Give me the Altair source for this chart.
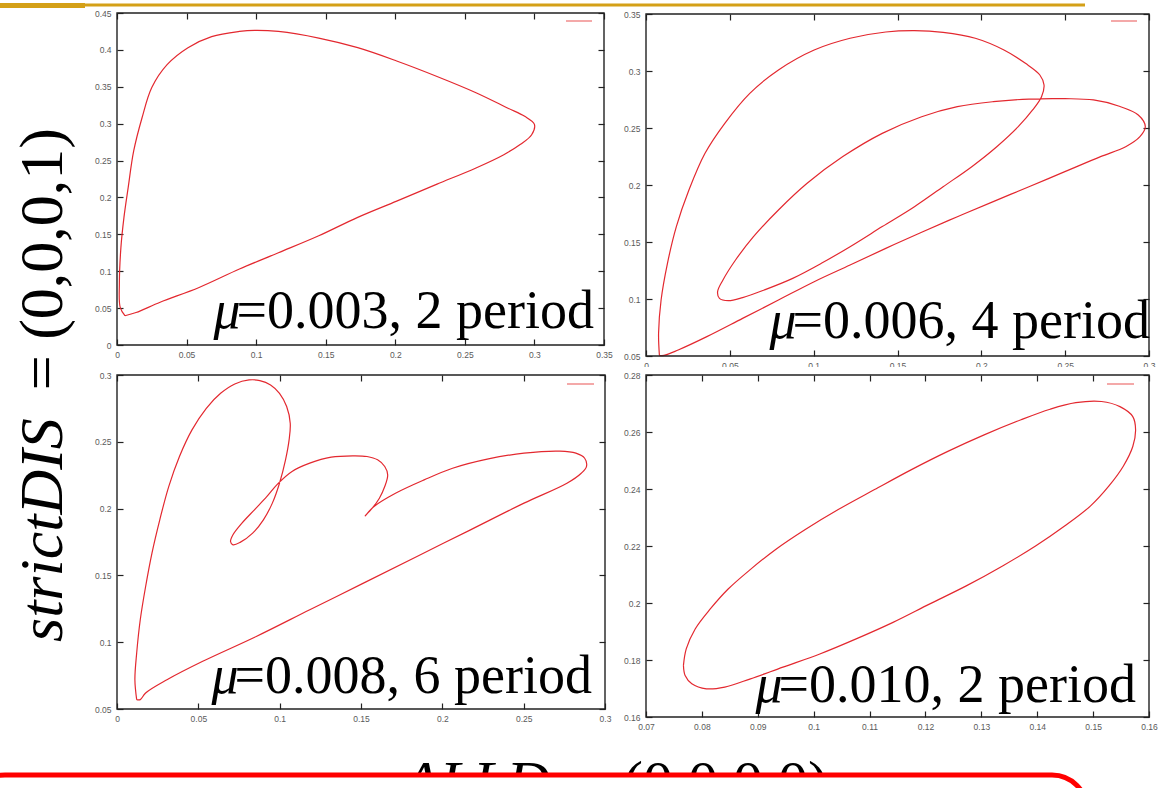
import altair as alt
import pandas as pd

# ---------------- data ----------------
# Panel 1: mu = 0.003, 2 period
p1_x = [0.0057, 0.0023, 0.0017, 0.0028, 0.005, 0.008, 0.012, 0.018, 0.025, 0.036, 0.051, 0.068,
        0.088, 0.099, 0.116, 0.145, 0.173, 0.201, 0.23, 0.258, 0.281, 0.293, 0.300, 0.298, 0.29,
        0.278, 0.258, 0.23, 0.201, 0.173, 0.145, 0.116, 0.088, 0.059, 0.031, 0.0137, 0.0057]
p1_y = [0.0397, 0.051, 0.0825, 0.132, 0.173, 0.213, 0.263, 0.308, 0.349, 0.380, 0.403, 0.418,
        0.425, 0.4265, 0.425, 0.416, 0.403, 0.385, 0.364, 0.342, 0.321, 0.310, 0.299, 0.285, 0.272,
        0.258, 0.240, 0.218, 0.195, 0.173, 0.148, 0.125, 0.103, 0.078, 0.058, 0.044, 0.0397]

# Panel 2: mu = 0.006, 4 period
p2_x = [0.008, 0.0075, 0.009, 0.0128, 0.0181, 0.0256, 0.0352, 0.047, 0.0619, 0.079, 0.1003, 0.1217,
        0.143, 0.1601, 0.1772, 0.1964, 0.2135, 0.2263, 0.2349, 0.2374, 0.2359,
        0.2306, 0.222, 0.2092, 0.1943, 0.1772, 0.1601, 0.1409, 0.1217, 0.1046, 0.0875, 0.0705,
        0.0576, 0.0491, 0.0438, 0.0427,
        0.0459, 0.0534, 0.0641, 0.079, 0.0961, 0.1174, 0.1409, 0.1644, 0.1857, 0.2071, 0.2284,
        0.2498, 0.2669, 0.2818, 0.2936, 0.2978, 0.2946, 0.2861,
        0.2711, 0.2498, 0.2284, 0.2071, 0.1857, 0.1644, 0.143, 0.1217, 0.1003, 0.079, 0.0576,
        0.0363, 0.0192, 0.0107, 0.008]
p2_y = [0.0505, 0.0699, 0.0991, 0.1313, 0.1635, 0.1956, 0.2278, 0.2541, 0.2804, 0.3009, 0.3184, 0.3287,
        0.3342, 0.3354, 0.3339, 0.3287, 0.3184, 0.3067, 0.2965, 0.2877, 0.2775,
        0.2658, 0.2512, 0.2336, 0.2161, 0.1985, 0.1810, 0.1635, 0.1459, 0.1313, 0.1181, 0.1079,
        0.1012, 0.0985, 0.1006, 0.1064,
        0.1167, 0.1342, 0.1547, 0.1781, 0.2015, 0.2249, 0.2453, 0.2599, 0.2687, 0.2731, 0.2754,
        0.2757, 0.2746, 0.2693, 0.2614, 0.2512, 0.2424, 0.2336,
        0.2249, 0.2117, 0.1985, 0.1854, 0.1722, 0.1585, 0.1444, 0.1298, 0.1152, 0.0991, 0.0830,
        0.0670, 0.0553, 0.0505, 0.0505]

# Panel 3: mu = 0.008, 6 period
p3_x = [0.0121, 0.011, 0.0121, 0.0143, 0.0176, 0.0215, 0.0263, 0.0318, 0.0384, 0.0461, 0.0549, 0.0637,
        0.0724, 0.0812, 0.0878, 0.0944, 0.0999, 0.1043, 0.1065, 0.1058, 0.1036, 0.0999, 0.0955,
        0.09, 0.0834, 0.0757, 0.0713, 0.0698, 0.0713, 0.0768, 0.0845, 0.0922, 0.0988, 0.1076,
        0.1185, 0.1317, 0.1449, 0.1537, 0.1602, 0.1646, 0.1664, 0.1646, 0.1613, 0.1569, 0.1526,
        0.158, 0.1712, 0.1888, 0.2063, 0.2283, 0.2502, 0.2722, 0.2821, 0.2875, 0.2886, 0.2854,
        0.2766, 0.2502, 0.2173, 0.1844, 0.1515, 0.1185, 0.0856, 0.0527, 0.0307, 0.0176, 0.0143,
        0.0121]
p3_y = [0.057, 0.0719, 0.0919, 0.1168, 0.1417, 0.1667, 0.1916, 0.2165, 0.2390, 0.2589, 0.2751, 0.2863,
        0.2933, 0.2963, 0.2958, 0.2926, 0.2863, 0.2764, 0.2639, 0.2514, 0.2365, 0.2190, 0.2041,
        0.1916, 0.1816, 0.1747, 0.1729, 0.1754, 0.1804, 0.1891, 0.1991, 0.2091, 0.2185, 0.2278,
        0.2340, 0.2385, 0.2395, 0.2390, 0.2365, 0.2315, 0.2253, 0.2165, 0.2078, 0.2003, 0.1946,
        0.2016, 0.2115, 0.2215, 0.2302, 0.2372, 0.2415, 0.2430, 0.2415, 0.2377, 0.2315, 0.2265,
        0.2190, 0.2041, 0.1841, 0.1642, 0.1442, 0.1243, 0.1043, 0.0857, 0.0719, 0.062, 0.057,
        0.057]

# Panel 4: mu = 0.010, 2 period
p4_x = [0.0767, 0.0772, 0.0788, 0.0815, 0.0847, 0.0887, 0.0932, 0.0985, 0.1044, 0.1109, 0.1175,
        0.124, 0.1305, 0.1371, 0.1423, 0.1469, 0.1515, 0.1548, 0.1571, 0.1576, 0.1571, 0.1554,
        0.1528, 0.1495, 0.1449, 0.1397, 0.1338, 0.1273, 0.1207, 0.1142, 0.1076, 0.1011, 0.0945,
        0.0887, 0.0841, 0.0808, 0.0782, 0.077, 0.0767]
p4_y = [0.1781, 0.1839, 0.1909, 0.1979, 0.2049, 0.2118, 0.2188, 0.2258, 0.2328, 0.2398, 0.2468,
        0.2532, 0.2590, 0.2643, 0.2680, 0.2703, 0.2707, 0.2689, 0.2654, 0.2608, 0.2549, 0.2480,
        0.2410, 0.2340, 0.2270, 0.2200, 0.2130, 0.2060, 0.1996, 0.1932, 0.1874, 0.1821, 0.1775,
        0.1734, 0.1705, 0.1699, 0.1717, 0.1746, 0.1781]

p1_xticks = [0, 0.05, 0.1, 0.15, 0.2, 0.25, 0.3, 0.35]
p1_yticks = [0, 0.05, 0.1, 0.15, 0.2, 0.25, 0.3, 0.35, 0.4, 0.45]
p2_xticks = [0, 0.05, 0.1, 0.15, 0.2, 0.25, 0.3]
p2_yticks = [0.05, 0.1, 0.15, 0.2, 0.25, 0.3, 0.35]
p3_xticks = [0, 0.05, 0.1, 0.15, 0.2, 0.25, 0.3]
p3_yticks = [0.05, 0.1, 0.15, 0.2, 0.25, 0.3]
p4_xticks = [0.07, 0.08, 0.09, 0.1, 0.11, 0.12, 0.13, 0.14, 0.15, 0.16]
p4_yticks = [0.16, 0.18, 0.2, 0.22, 0.24, 0.26, 0.28]

mu_values = ["0.003", "0.006", "0.008", "0.010"]
periods = ["2", "4", "6", "2"]

y_title_italic = "strictDIS"
y_title_rest = "= (0,0,0,1)"
x_title_italic = "ALLD"
x_title_rest = "= (0,0,0,0)"

# ---------------- layout / style ----------------
W, H = 1159, 788
RED = "#e3282f"
SERIF = "Liberation Serif"
SANS = "Liberation Sans"
LAB = dict(labelFont=SANS, labelFontSize=8.5, labelColor="#5a5a5a")
ONE = pd.DataFrame({"k": [0]})


def axis_common(**kw):
    base = dict(grid=False, domain=False, title=None, labelFlush=False, labelOverlap=False,
                labelBound=False, zindex=0)
    base.update(kw)
    return alt.Axis(**base)


def panel(xs, ys, xdom, ydom, xticks, yticks, box, mu, per, label_pos, legend_pos, fs=54):
    left, right, bottom, top = box
    df = pd.DataFrame({"x": xs, "y": ys, "i": list(range(len(xs)))})
    sx = alt.Scale(domain=xdom, range=[left, right], nice=False, zero=False)
    sy = alt.Scale(domain=ydom, range=[bottom, top], nice=False, zero=False)

    x_lab = axis_common(orient="bottom", offset=bottom - H, values=xticks, format="~g",
                        ticks=False, labelPadding=5, **LAB)
    y_lab = axis_common(orient="left", offset=-left, values=yticks, format="~g",
                        ticks=False, labelPadding=6, **LAB)
    x_in_b = axis_common(orient="top", offset=-bottom, values=xticks, labels=False,
                         ticks=True, tickSize=6, tickColor="#222222", tickWidth=1.2)
    y_in_l = axis_common(orient="right", offset=left - W, values=yticks, labels=False,
                         ticks=True, tickSize=6, tickColor="#222222", tickWidth=1.2)
    x_in_t = axis_common(orient="bottom", offset=top - H, values=xticks, labels=False,
                         ticks=True, tickSize=6, tickColor="#222222", tickWidth=1.2)
    y_in_r = axis_common(orient="left", offset=-right, values=yticks, labels=False,
                         ticks=True, tickSize=6, tickColor="#222222", tickWidth=1.2)

    curve = alt.Chart(df).mark_line(color=RED, strokeWidth=1.2, interpolate="catmull-rom").encode(
        x=alt.X("x:Q", scale=sx, axis=x_lab),
        y=alt.Y("y:Q", scale=sy, axis=y_lab),
        order=alt.Order("i:Q"),
    )
    frame = alt.Chart(ONE).mark_rect(fillOpacity=0, stroke="#222222", strokeWidth=1.4).encode(
        x=alt.XDatum(xdom[0], type="quantitative", scale=sx, axis=x_in_b),
        x2=alt.X2Datum(xdom[1]),
        y=alt.YDatum(ydom[0], type="quantitative", scale=sy, axis=y_in_l),
        y2=alt.Y2Datum(ydom[1]),
    )
    frame2 = alt.Chart(ONE).mark_rect(opacity=0).encode(
        x=alt.XDatum(xdom[0], type="quantitative", scale=sx, axis=x_in_t),
        x2=alt.X2Datum(xdom[1]),
        y=alt.YDatum(ydom[0], type="quantitative", scale=sy, axis=y_in_r),
        y2=alt.Y2Datum(ydom[1]),
    )
    lx, ly = label_pos
    rest = "=" + mu + ", " + per + " period"
    rest_w = 6.619 * fs
    lab_rest = alt.Chart(ONE).mark_text(text=rest, font=SERIF, fontSize=fs, align="right",
                                        baseline="alphabetic", color="black").encode(
        x=alt.value(lx), y=alt.value(ly))
    lab_mu = alt.Chart(ONE).mark_text(text="\u03bc", font=SERIF, fontSize=fs, fontStyle="italic",
                                      align="right", baseline="alphabetic", color="black").encode(
        x=alt.value(lx - rest_w + 4), y=alt.value(ly))
    gx1, gx2, gy = legend_pos
    key = alt.Chart(ONE).mark_rule(color="#f08c8c", strokeWidth=1.5).encode(
        x=alt.value(gx1), x2=alt.value(gx2), y=alt.value(gy))
    return [curve, frame, frame2, key, lab_mu, lab_rest]


# boxes: left, right, bottom, top (pixels)
P1 = (117, 604, 345, 13)
P2 = (646, 1149, 356, 14)
P3 = (117, 605, 709, 375)
P4 = (646, 1149, 717, 375)

layers = []
layers += panel(p1_x, p1_y, [0, 0.35], [0, 0.45], p1_xticks, p1_yticks, P1,
                mu_values[0], periods[0], (594, 328), (566, 592, 21))
layers += panel(p2_x, p2_y, [0, 0.3], [0.05, 0.35], p2_xticks, p2_yticks, P2,
                mu_values[1], periods[1], (1150, 338), (1111, 1137, 21))
layers += panel(p3_x, p3_y, [0, 0.3], [0.05, 0.3], p3_xticks, p3_yticks, P3,
                mu_values[2], periods[2], (592, 693), (567, 594, 384))

# white strip: panel 4 image overlaps the lower half of panel 2's x labels
cover = alt.Chart(ONE).mark_rect(color="white").encode(
    x=alt.value(640), x2=alt.value(W), y=alt.value(367), y2=alt.value(373))
layers.append(cover)

layers += panel(p4_x, p4_y, [0.07, 0.16], [0.16, 0.28], p4_xticks, p4_yticks, P4,
                mu_values[3], periods[3], (1136, 702), (1107, 1134, 384))

# slide decorations
gold = alt.Chart(ONE).mark_rule(color="#d4a017", strokeWidth=3).encode(
    x=alt.value(0), x2=alt.value(1085), y=alt.value(5))
gold_l = alt.Chart(ONE).mark_rect(color="#d4a017").encode(
    x=alt.value(0), x2=alt.value(85), y=alt.value(3), y2=alt.value(8))

yt1 = alt.Chart(ONE).mark_text(text=y_title_italic, font=SERIF, fontSize=62, fontStyle="italic",
                               angle=270, align="left", baseline="alphabetic", color="black").encode(
    x=alt.value(62), y=alt.value(642))
yt2 = alt.Chart(ONE).mark_text(text=y_title_rest, font=SERIF, fontSize=62, angle=270,
                               align="right", baseline="alphabetic", color="black").encode(
    x=alt.value(62), y=alt.value(128))

xt1 = alt.Chart(ONE).mark_text(text=x_title_italic, font=SERIF, fontSize=60, fontStyle="italic",
                               align="left", baseline="alphabetic", color="black").encode(
    x=alt.value(403), y=alt.value(802))
xt2 = alt.Chart(ONE).mark_text(text=x_title_rest, font=SERIF, fontSize=60,
                               align="right", baseline="alphabetic", color="black").encode(
    x=alt.value(828), y=alt.value(802))

redbox = alt.Chart(ONE).mark_rect(fill="white", stroke="#ff0000", strokeWidth=5,
                                  cornerRadius=35).encode(
    x=alt.value(-30), x2=alt.value(1087), y=alt.value(775), y2=alt.value(900))

layers += [gold, gold_l, yt1, yt2, xt1, xt2, redbox]

chart = alt.layer(*layers).resolve_scale(
    x="independent", y="independent"
).resolve_axis(
    x="independent", y="independent"
).properties(
    width=W, height=H, padding=0,
    autosize=alt.AutoSizeParams(type="none"),
    background="white",
).configure_view(strokeWidth=0)

chart.save("out.html", embed_options={"renderer": "svg", "actions": False})
